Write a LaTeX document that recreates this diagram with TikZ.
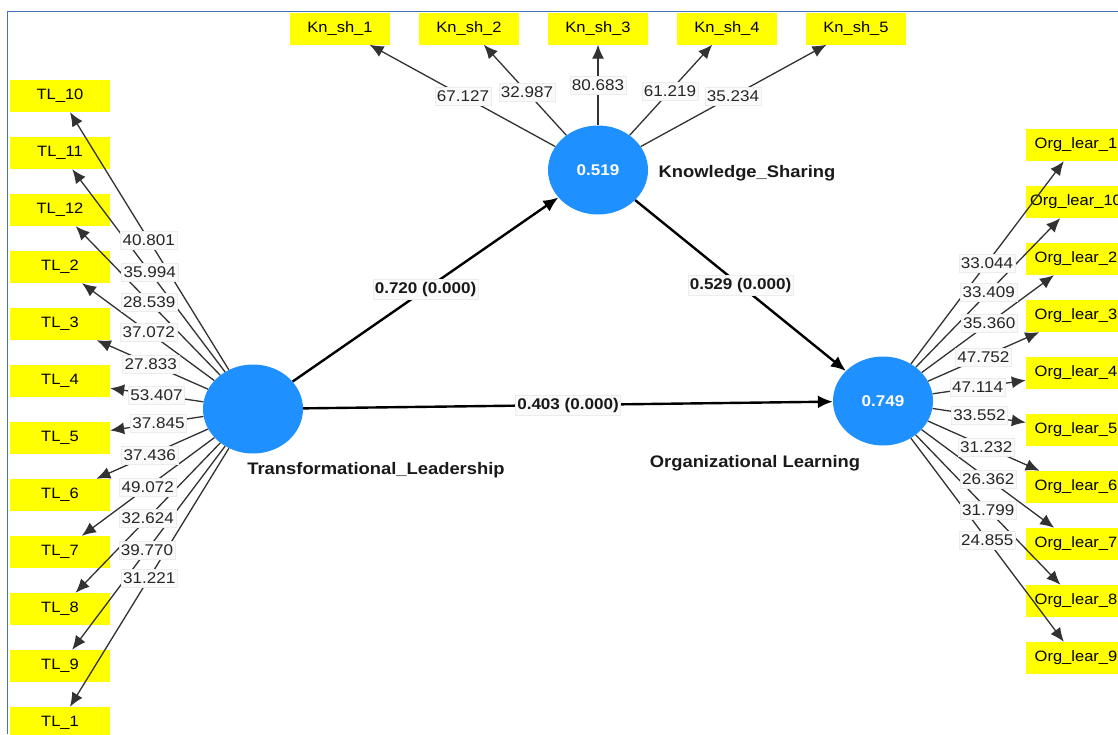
\documentclass[tikz,border=0pt]{standalone}
\usepackage{fontspec}
\setmainfont{Liberation Sans}[FakeStretch=1.1]
\usetikzlibrary{shapes.geometric,arrows.meta,calc}
\definecolor{indyellow}{RGB}{255,255,0}
\definecolor{lvblue}{RGB}{30,144,255}
\definecolor{framecol}{RGB}{68,114,196}
\definecolor{lblbg}{RGB}{250,250,250}
\definecolor{lblline}{RGB}{236,236,236}
\definecolor{loadcol}{RGB}{50,50,50}
\begin{document}
\begin{tikzpicture}[x=1pt,y=-1pt,
  ind/.style={fill=indyellow, minimum width=100pt, minimum height=32pt, inner sep=0pt, font=\fontsize{15}{18}\selectfont},
  lv/.style={ellipse, fill=lvblue, minimum width=100pt, minimum height=89pt, inner sep=0pt, text=white, font=\bfseries\fontsize{15.5}{18}\selectfont},
  lvname/.style={font=\bfseries\fontsize{16.7}{20}\selectfont, text=black!90},
  load/.style={draw=loadcol, line width=1.3pt, -{Latex[length=14pt,width=12pt]}},
  pathar/.style={draw=black, line width=2.4pt, -{Latex[length=15pt,width=13pt]}},
  lbl/.style={fill=lblbg, draw=lblline, line width=0.5pt, inner xsep=2pt, inner ysep=0pt, minimum height=18pt, font=\fontsize{15.5}{18}\selectfont, text=black!85},
  plbl/.style={fill=lblbg, draw=lblline, line width=0.5pt, inner xsep=2pt, inner ysep=0pt, minimum height=20pt, font=\bfseries\fontsize{15.5}{18}\selectfont, text=black!90}
]
\useasboundingbox (0,0) rectangle (1118,734);
\clip (0,0) rectangle (1118,734);
\fill[white] (0,0) rectangle (1118,734);
\draw[framecol, line width=1.3pt] (7.5,734) -- (7.5,11.5) -- (1118,11.5);

% latent variables
\node[lv] (TL) at (253,409) {};
\node[lv] (KS) at (598,170) {0.519};
\node[lv] (OL) at (883,401) {0.749};

% indicators
\foreach \n/\y in {10/96,11/153,12/210,2/267,3/324,4/381,5/438,6/495,7/552,8/609,9/666,1/723}
  \node[ind] (TL\n) at (60,\y) {TL\_\n};
\foreach \i/\x in {1/340,2/469,3/598,4/727,5/856}
  \node[ind] (KN\i) at (\x,28.5) {Kn\_sh\_\i};
\foreach \n/\y in {1/145,10/202,2/259,3/316,4/373,5/430,6/487,7/544,8/601,9/658}
  \node[ind] (OG\n) at (1076,\y) {Org\_lear\_\n};

% construct names
\node[lvname] (nTL) at (376,470) {Transformational\_Leadership};
\node[lvname] (nKS) at (747,173) {Knowledge\_Sharing};
\node[lvname] (nOL) at (755,463) {Organizational Learning};

% loadings lines
\foreach \n in {10,11,12,2,3,4,5,6,7,8,9,1}
  \draw[load] (TL) -- (TL\n);
\foreach \i in {1,2,3,4,5}
  \draw[load] (KS) -- (KN\i);
\foreach \n in {1,10,2,3,4,5,6,7,8,9}
  \draw[load] (OL) -- (OG\n);

% structural paths
\draw[pathar] (TL) -- (KS);
\draw[pathar] (KS) -- (OL);
\draw[pathar] (TL) -- (OL);

% loading labels
\foreach \n/\f/\v in {10/0.54/40.801,11/0.535/35.994,12/0.538/28.539,2/0.54/37.072,3/0.53/27.833,4/0.50/53.407,5/0.49/37.845,6/0.535/37.436,7/0.545/49.072,8/0.545/32.624,9/0.549/39.770,1/0.538/31.221}
  \node[lbl] (lTL\n) at ($(TL)!\f!(TL\n)$) {\v};
\foreach \i/\f/\v in {1/0.523/67.127,2/0.55/32.987,3/0.6/80.683,4/0.558/61.219,5/0.523/35.234}
  \node[lbl] (lKN\i) at ($(KS)!\f!(KN\i)$) {\v};
\foreach \n/\f/\v in {1/0.539/33.044,10/0.548/33.409,2/0.55/35.360,3/0.52/47.752,4/0.49/47.114,5/0.50/33.552,6/0.535/31.232,7/0.545/26.362,8/0.545/31.799,9/0.54/24.855}
  \node[lbl] (lOG\n) at ($(OL)!\f!(OG\n)$) {\v};

% path labels
\node[plbl] (pTK) at ($(TL)!0.5!(KS)$) {0.720 (0.000)};
\node[plbl] (pKO) at ($(KS)!0.5!(OL)$) {0.529 (0.000)};
\node[plbl] (pTO) at ($(TL)!0.5!(OL)$) {0.403 (0.000)};
\end{tikzpicture}
\end{document}
